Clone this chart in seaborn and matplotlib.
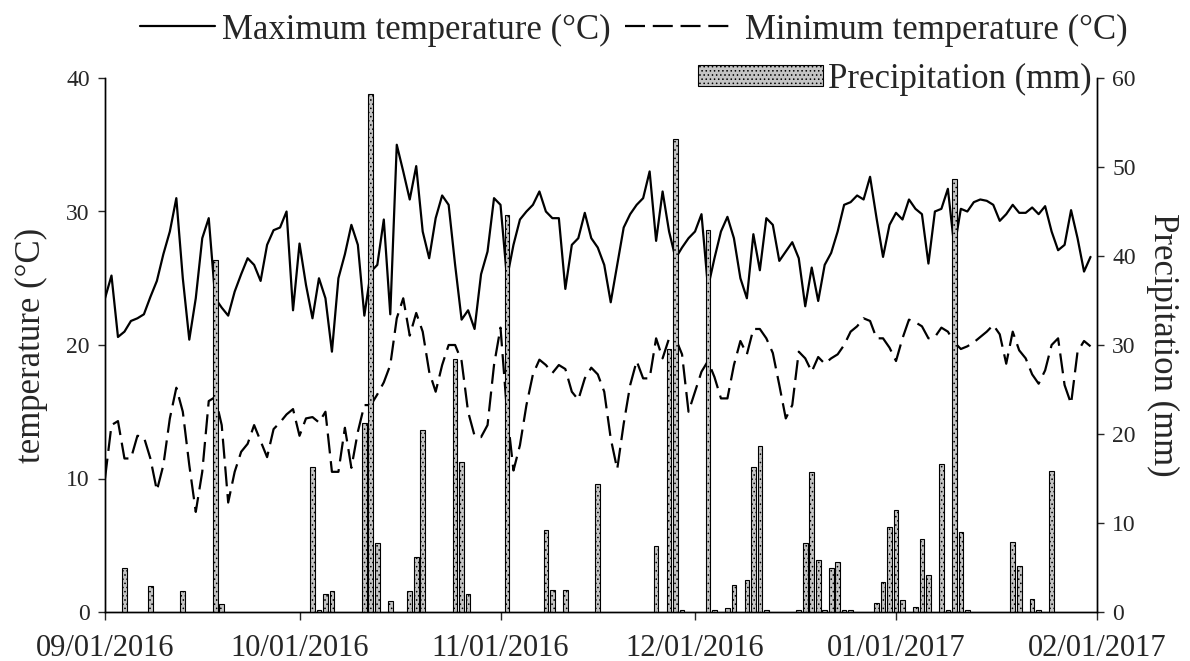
import numpy as np
import pandas as pd
import matplotlib
matplotlib.use("Agg")
import matplotlib.pyplot as plt
from matplotlib.patches import Patch
from matplotlib.lines import Line2D
import seaborn as sns

# ---------------- data (daily, starting 09/01/2016) ----------------
start_date = "09/01/2016"
tick_labels = ["09/01/2016", "10/01/2016", "11/01/2016", "12/01/2016", "01/01/2017", "02/01/2017"]

max_temp = [23.5, 25.2, 20.6, 21.0, 21.8, 22.0, 22.3, 23.6, 24.8, 26.8,
            28.5, 31.0, 25.0, 20.4, 23.5, 28.0, 29.5, 23.5, 22.8, 22.2,
            24.0, 25.3, 26.5, 26.0, 24.8, 27.5, 28.6, 28.8, 30.0, 22.6,
            27.6, 24.5, 22.0, 25.0, 23.5, 19.5, 25.0, 26.8, 29.0, 27.5,
            22.2, 25.5, 26.0, 29.4, 22.3, 35.0, 33.0, 30.9, 33.4, 28.5,
            26.5, 29.5, 31.2, 30.5, 26.0, 21.9, 22.6, 21.2, 25.3, 27.0,
            31.0, 30.5, 25.0, 27.5, 29.4, 30.0, 30.5, 31.5, 30.0, 29.5,
            29.5, 24.2, 27.5, 28.0, 29.9, 28.0, 27.3, 26.0, 23.2, 26.0,
            28.8, 29.8, 30.5, 31.0, 33.0, 27.8, 31.5, 28.5, 26.5, 27.3,
            28.0, 28.5, 29.8, 24.3, 26.5, 28.5, 29.6, 28.0, 25.0, 23.5,
            28.3, 25.6, 29.5, 29.0, 26.3, 27.0, 27.7, 26.5, 22.9, 25.8,
            23.3, 26.0, 26.9, 28.5, 30.5, 30.7, 31.2, 30.9, 32.6, 29.5,
            26.6, 29.0, 29.9, 29.4, 30.9, 30.2, 29.8, 26.1, 30.0, 30.2,
            31.7, 27.3, 30.2, 30.0, 30.7, 30.9, 30.8, 30.5, 29.3, 29.8,
            30.5, 29.9, 29.9, 30.3, 29.8, 30.4, 28.5, 27.1, 27.5, 30.1,
            28.0, 25.5, 26.6]

min_temp = [10.0, 14.0, 14.3, 11.5, 11.5, 13.2, 13.1, 11.5, 9.1, 11.0,
            14.5, 16.8, 15.0, 11.0, 7.5, 10.5, 15.8, 16.1, 14.0, 8.2,
            10.5, 12.0, 12.6, 14.0, 12.8, 11.6, 13.7, 14.2, 14.8, 15.2,
            13.2, 14.5, 14.6, 14.2, 15.0, 10.5, 10.5, 13.8, 10.8, 13.5,
            15.5, 15.5, 16.3, 17.2, 18.5, 22.0, 23.5, 20.7, 22.4, 21.0,
            18.0, 16.5, 18.5, 20.0, 20.0, 18.8, 15.0, 13.2, 13.1, 14.0,
            18.5, 21.3, 15.0, 10.6, 12.5, 15.5, 17.8, 18.9, 18.5, 17.9,
            18.5, 18.2, 16.5, 15.9, 17.5, 18.3, 17.8, 16.5, 13.0, 10.7,
            14.1, 17.0, 18.8, 17.5, 17.5, 20.5, 19.0, 20.5, 20.5, 19.3,
            15.0, 16.5, 18.0, 18.8, 17.6, 16.0, 16.0, 18.5, 20.3, 19.3,
            21.2, 21.2, 20.5, 19.4, 17.0, 14.5, 15.5, 19.5, 19.0, 18.0,
            19.1, 18.6, 19.0, 19.3, 20.0, 21.0, 21.4, 22.0, 21.8, 20.5,
            20.5, 19.8, 18.8, 20.5, 21.9, 21.7, 21.4, 20.5, 20.6, 21.3,
            21.0, 20.2, 19.7, 19.9, 20.2, 20.6, 21.0, 21.5, 20.8, 18.6,
            21.0, 19.6, 19.0, 17.8, 17.1, 18.1, 20.0, 20.5, 17.0, 15.6,
            19.5, 20.3, 19.9]

precipitation = [0, 0, 0, 5.0, 0, 0, 0, 2.9, 0, 0,
                 0, 0, 2.4, 0, 0, 0, 0, 39.6, 0.9, 0,
                 0, 0, 0, 0, 0, 0, 0, 0, 0, 0,
                 0, 0, 16.3, 0.2, 2.0, 2.4, 0, 0, 0, 0,
                 21.2, 58.2, 7.8, 0, 1.2, 0, 0, 2.4, 6.2, 20.4,
                 0, 0, 0, 0, 28.4, 16.8, 2.0, 0, 0, 0,
                 0, 0, 44.6, 0, 0, 0, 0, 0, 9.2, 2.5,
                 0, 2.5, 0, 0, 0, 0, 14.4, 0, 0, 0,
                 0, 0, 0, 0, 0, 7.4, 0, 29.5, 53.2, 0.2,
                 0, 0, 0, 42.9, 0.2, 0, 0.4, 3.0, 0, 3.6,
                 16.3, 18.7, 0.2, 0, 0, 0, 0, 0.2, 7.8, 15.7,
                 5.8, 0.2, 5.0, 5.6, 0.2, 0.2, 0, 0, 0, 1.0,
                 3.4, 9.6, 11.5, 1.3, 0, 0.6, 8.2, 4.2, 0, 16.6,
                 0.2, 48.6, 9.0, 0.2, 0, 0, 0, 0, 0, 0,
                 7.9, 5.2, 0, 1.5, 0.2, 0, 15.8, 0, 0, 0,
                 0, 0, 0]

# ---------------- build frames ----------------
t0 = pd.to_datetime(start_date, format="%m/%d/%Y")
days = np.arange(len(max_temp))
temp_df = pd.DataFrame({"day": days, "tmax": max_temp, "tmin": min_temp})
prec_df = pd.DataFrame({"day": days, "prec": precipitation})
prec_df = prec_df[prec_df["prec"] > 0]
tick_pos = (pd.to_datetime(tick_labels, format="%m/%d/%Y") - t0).days

# ---------------- style ----------------
sns.set_style("white")
plt.rcParams["font.family"] = ["Liberation Serif", "DejaVu Serif"]
plt.rcParams["hatch.linewidth"] = 0.6
plt.rcParams["axes.linewidth"] = 1.0

DASH = (0, (9, 3.5))

fig = plt.figure(figsize=(11.9, 6.61), dpi=100)
ax = fig.add_axes([105 / 1190, 1 - 612 / 661, 992 / 1190, 534 / 661])
ax2 = ax.twinx()

# temperature lines
sns.lineplot(data=temp_df, x="day", y="tmax", ax=ax, color="black", lw=1.6)
sns.lineplot(data=temp_df, x="day", y="tmin", ax=ax, color="black", lw=1.6,
             linestyle=DASH)

# precipitation bars
sns.barplot(data=prec_df, x="day", y="prec", ax=ax2, native_scale=True,
            width=0.72, color="#c4c4c4", edgecolor="black", linewidth=0.8,
            errorbar=None)
for p in ax2.patches:
    p.set_hatch("....")

# axes
ax.set_xlim(0, tick_pos[-1])
ax.set_ylim(0, 40)
ax2.set_ylim(0, 60)
ax.set_xticks(tick_pos)
ax.set_xticklabels(tick_labels, fontsize=22)
ax.set_yticks([0, 10, 20, 30, 40])
ax.tick_params(axis="y", labelsize=17, direction="out", length=5, width=1, left=True, pad=6)
ax.tick_params(axis="x", direction="out", length=6, width=1, bottom=True, pad=10)
ax2.set_yticks([0, 10, 20, 30, 40, 50, 60])
ax2.tick_params(axis="y", labelsize=17, direction="out", length=5, width=1, right=True, pad=6)
ax.set_xlabel("")
ax2.set_xlabel("")

for a in (ax, ax2):
    a.spines["top"].set_visible(False)
    for s in ("left", "right", "bottom"):
        a.spines[s].set_color("black")
        a.spines[s].set_linewidth(1.0)

ax.set_ylabel("temperature (°C)", fontsize=25, va="center", ha="center")
ax.yaxis.set_label_coords((31 - 105) / 992, 0.5)
ax2.set_ylabel("Precipitation (mm)", fontsize=25, rotation=270, va="center", ha="center")
ax2.yaxis.set_label_coords((1163 - 105) / 992, 0.5)

# legends
EM = 25 * 100 / 72.0  # font size in px
h_max = Line2D([], [], color="black", lw=1.6)
h_min = Line2D([], [], color="black", lw=1.6, linestyle=DASH)
leg1 = fig.legend([h_max], ["Maximum temperature (°C)"],
                  loc="center left", bbox_to_anchor=(140 / 1190, 1 - 30 / 661),
                  frameon=False, fontsize=25, handlelength=75 / EM,
                  handletextpad=7 / EM, borderpad=0, borderaxespad=0)
leg2 = fig.legend([h_min], ["Minimum temperature (°C)"],
                  loc="center left", bbox_to_anchor=(625 / 1190, 1 - 30 / 661),
                  frameon=False, fontsize=25, handlelength=110 / EM,
                  handletextpad=10 / EM, borderpad=0, borderaxespad=0)
h_p = Patch(facecolor="#c4c4c4", edgecolor="black", hatch="....", linewidth=0.8)
fig.legend([h_p], ["Precipitation (mm)"], loc="center right",
           bbox_to_anchor=(1092 / 1190, 1 - 79 / 661), frameon=False, fontsize=25,
           handlelength=3.6, handleheight=0.55, handletextpad=0.15,
           borderpad=0, borderaxespad=0)

fig.savefig("out.png", dpi=100)
